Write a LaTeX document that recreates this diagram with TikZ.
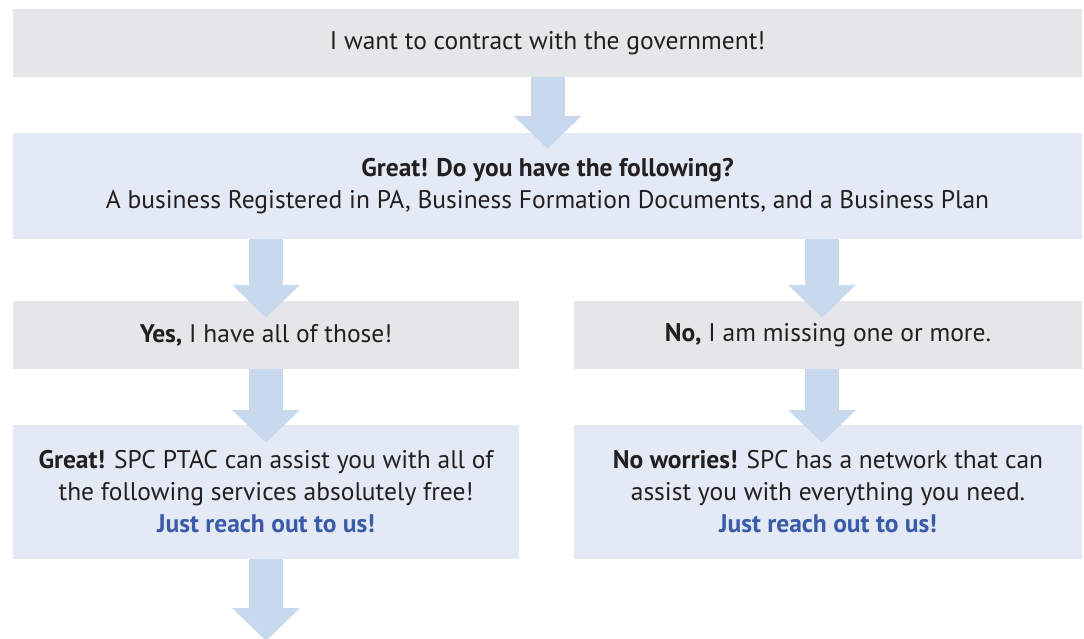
\documentclass[tikz,border=0pt]{standalone}
\usepackage{fontspec}
\setmainfont{PT Sans}
\usetikzlibrary{arrows.meta}

\definecolor{boxgrey}{HTML}{E5E6E7}
\definecolor{boxblue}{HTML}{E3E9F5}
\definecolor{arrowblue}{HTML}{C8D9EE}
\definecolor{linkblue}{HTML}{3A5BA8}
\definecolor{inkblack}{HTML}{231F20}

\tikzset{
  answer/.style={rectangle, fill=boxgrey, inner sep=0pt, align=center, text=inkblack,
    font=\fontsize{25.5}{32}\selectfont},
  reply/.style={answer, fill=boxblue},
  flow/.style={draw=arrowblue, line width=34pt, -{Triangle[width=66pt, length=33pt]}}
}
\newcommand{\reach}{\textcolor{linkblue}{\bfseries Just reach out to us!}}

\begin{document}
\begin{tikzpicture}[x=1pt, y=1pt]
\useasboundingbox (0,0) rectangle (1084,-639);

% question, top
\node[answer, minimum width=1069pt, minimum height=68pt] at (547.5, -43) (want) {I want to contract with the government!};
\node[reply, minimum width=1069pt, minimum height=106pt] at (547.5, -186) (ask)
  {\textbf{Great! Do you have the following?}\\A business Registered in PA, Business Formation Documents, and a Business Plan};

% yes and no
\node[answer, minimum width=506pt, minimum height=68pt] at (266, -335) (yes) {\textbf{Yes,} I have all of those!};
\node[answer, minimum width=508pt, minimum height=68pt] at (828, -335) (no) {\textbf{No,} I am missing one or more.};

% what comes next
\node[reply, minimum width=506pt, minimum height=134pt] at (266, -492) (yesnext)
  {\textbf{Great!} SPC PTAC can assist you with all of\\the following services absolutely free!\\\reach};
\node[reply, minimum width=508pt, minimum height=134pt] at (828, -492) (nonext)
  {\textbf{No worries!} SPC has a network that can\\assist you with everything you need.\\\reach};
\coordinate (more) at (266, -641);

% arrows
\draw[flow] (want.south) -- ([yshift=-16pt]ask.north);
\draw[flow] (ask.south -| yes.south) -- ([yshift=-17pt]yes.north);
\draw[flow] ([xshift=-6pt]ask.south -| no.south) -- ([xshift=-6pt, yshift=-17pt]no.north);
\draw[flow] (yes.south) -- ([yshift=-18pt]yesnext.north);
\draw[flow] ([xshift=-6pt]no.south) -- ([xshift=-6pt, yshift=-18pt]nonext.north);
\draw[flow] (yesnext.south) -- (more);

\end{tikzpicture}
\end{document}
